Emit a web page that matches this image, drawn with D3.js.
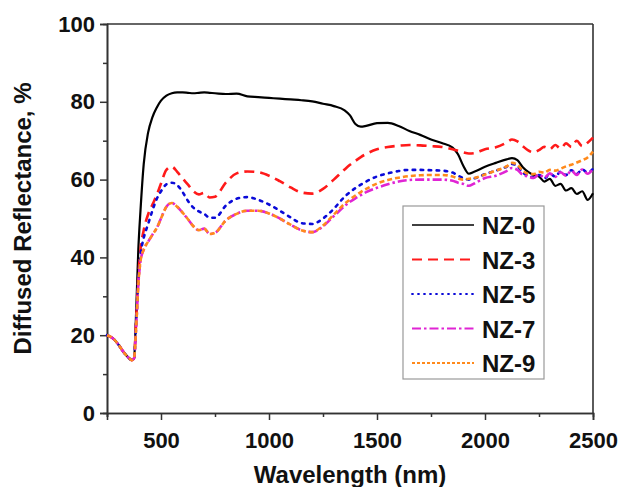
<!DOCTYPE html>
<html>
<head>
<meta charset="utf-8">
<script src="https://cdn.jsdelivr.net/npm/d3@7"></script>
<style>
  body { margin: 0; background: #fff; }
  text { font-family: "Liberation Sans", Arial, sans-serif; font-weight: bold; }
</style>
</head>
<body>
<div id="chart"></div>
<script>
// wavelengths (nm)
const wavelength = [250, 275, 300, 325, 350, 365, 375, 385, 395, 405, 420, 440, 460, 480, 500,
  525, 550, 575, 600, 625, 650, 675, 700, 725, 750, 800, 850, 900, 950, 1000,
  1050, 1100, 1150, 1200, 1250, 1300, 1350, 1375, 1400, 1425, 1450, 1500, 1550, 1600, 1650,
  1700, 1750, 1800, 1850, 1875, 1900, 1925, 1950, 2000, 2050, 2100, 2125, 2150, 2175, 2200,
  2225, 2250, 2275, 2300, 2325, 2350, 2375, 2400, 2425, 2450, 2475, 2500];

const nz0 = [20, 19.3, 17.8, 15.8, 14.2, 13.6, 14.0, 26, 42, 52, 64, 72, 76, 78.5, 80.3,
  81.6, 82.2, 82.4, 82.4, 82.3, 82.2, 82.3, 82.4, 82.3, 82.2, 82.0, 82.1, 81.4, 81.2, 81.0,
  80.8, 80.6, 80.4, 80.1, 79.5, 78.9, 77.8, 76.5, 74.3, 73.6, 73.8, 74.5, 74.6, 73.8, 72.5,
  71.5, 70.3, 69.4, 68.2, 66.5, 63.5, 61.5, 62.0, 63.3, 64.3, 65.2, 65.5, 65.0, 63.2, 62.0,
  61.2, 60.8, 59.5, 60.2, 58.4, 58.9, 57.2, 57.8, 56.3, 57.0, 54.8, 56.5];

const nz3 = [20, 19.3, 17.8, 15.8, 14.2, 13.6, 14.0, 24, 35, 42, 47, 51, 53.5, 56, 59,
  62.5, 63.3, 62.0, 60.3, 58.7, 57.0, 56.2, 56.6, 55.4, 55.6, 59.2, 61.6, 62.1, 61.9, 61.0,
  59.6, 58.0, 56.7, 56.4, 57.6, 60.0, 62.6, 63.8, 64.8, 65.8, 66.6, 67.8, 68.4, 68.7, 68.9,
  68.8, 68.6, 68.4, 67.8, 67.4, 67.0, 66.7, 66.8, 67.8, 68.3, 69.5, 70.3, 69.8, 68.6, 67.5,
  67.0, 67.6, 68.4, 67.8, 68.9, 68.0, 69.3, 68.4, 70.0, 68.6, 69.5, 70.8];

const nz5 = [20, 19.3, 17.8, 15.8, 14.2, 13.6, 14.0, 23, 34, 40.5, 45, 48.5, 52, 55, 57,
  58.8, 59.2, 58.6, 56.8, 54.5, 52.8, 51.8, 51.2, 50.2, 50.2, 53.3, 55.1, 55.5, 54.8, 53.6,
  52.0, 50.3, 48.8, 48.6, 50.0, 52.5, 55.6, 56.8, 57.8, 58.7, 59.5, 60.8, 61.6, 62.2, 62.5,
  62.5, 62.4, 62.3, 61.8, 61.0, 60.4, 60.0, 60.3, 61.4, 62.3, 63.3, 64.0, 63.5, 61.8, 61.0,
  60.6, 61.2, 60.3, 61.5, 60.8, 62.0, 61.2, 62.4, 61.5, 62.6, 61.8, 62.8];

const nz7 = [20, 19.3, 17.8, 15.8, 14.2, 13.6, 14.0, 22, 33, 39, 42, 44, 45.8, 47.5, 50,
  53, 54, 53, 51.5, 49.8, 48, 47, 47.4, 46, 46.3, 49.5, 51.2, 52, 52, 51.3,
  50.0, 48.4, 47.0, 46.5, 48.0, 50.6, 53.2, 54.3, 55.2, 56.0, 56.8, 57.9, 58.8, 59.5, 59.9,
  60.0, 60.0, 60.0, 59.7, 59.2, 58.9, 58.4, 59.0, 60.4, 61.0, 62.2, 63.0, 62.5, 61.2, 60.8,
  60.4, 61.3, 60.5, 61.6, 60.7, 61.9, 61.0, 62.3, 61.2, 62.6, 61.5, 62.8];

const nz9 = [20, 19.3, 17.8, 15.8, 14.2, 13.6, 14.0, 22, 33, 39, 42, 44, 45.8, 47.5, 50,
  53, 54, 53, 51.5, 49.8, 48, 47, 47.4, 46, 46.3, 49.5, 51.2, 52, 52, 51.3,
  50.0, 48.4, 47.0, 46.5, 48.2, 51.0, 53.8, 54.9, 55.9, 56.8, 57.6, 59.0, 59.9, 60.5, 60.9,
  61.1, 61.2, 61.2, 60.8, 60.3, 60.0, 60.2, 60.4, 61.3, 62.3, 63.4, 64.3, 63.8, 62.3, 61.5,
  61.4, 62.0, 61.8, 62.5, 62.3, 62.8, 63.4, 63.8, 64.4, 65.0, 65.7, 67.2];

const seriesNames = ["NZ-0", "NZ-3", "NZ-5", "NZ-7", "NZ-9"];
const seriesValues = [nz0, nz3, nz5, nz7, nz9];
const colors = ["#000000", "#ff1a1a", "#0a0ad8", "#e024d4", "#ff8a1c"];
const dashes = [null, "10,6", "2.5,5.5", "9,3,2.5,3", "5,3"];

const xMajor = [500, 1000, 1500, 2000, 2500];
const xMinor = [250, 750, 1250, 1750, 2250];
const yMajor = [0, 20, 40, 60, 80, 100];
const yMinor = [10, 30, 50, 70, 90];

const W = 620, H = 487;
const m = {left: 107, right: 27, top: 24, bottom: 74};

const svg = d3.select("#chart").append("svg")
  .attr("width", W)
  .attr("height", H);

const x = d3.scaleLinear().domain([250, 2500]).range([m.left, W - m.right]);
const y = d3.scaleLinear().domain([0, 100]).range([H - m.bottom, m.top]);

// axes
const axisColor = "#333";
svg.append("g").attr("transform", `translate(0,${H - m.bottom})`)
  .call(d3.axisBottom(x).tickValues(xMajor).tickSize(7).tickPadding(12).tickFormat(d3.format("d")));
svg.append("g").attr("transform", `translate(0,${H - m.bottom})`)
  .call(d3.axisBottom(x).tickValues(xMinor).tickSize(4).tickFormat(""));
svg.append("g").attr("transform", `translate(${m.left},0)`)
  .call(d3.axisLeft(y).tickValues(yMajor).tickSize(7).tickPadding(5).tickFormat(d3.format("d")));
svg.append("g").attr("transform", `translate(${m.left},0)`)
  .call(d3.axisLeft(y).tickValues(yMinor).tickSize(4).tickFormat(""));

svg.selectAll(".domain").attr("stroke", axisColor).attr("stroke-width", 1.6);
svg.selectAll(".tick line").attr("stroke", axisColor).attr("stroke-width", 1.5);
svg.selectAll(".tick text").attr("font-size", 22).attr("fill", "#111")
  .style("font-family", "'Liberation Sans', Arial, sans-serif").style("font-weight", "bold");

// top and right frame
svg.append("line").attr("x1", m.left).attr("x2", W - m.right).attr("y1", m.top).attr("y2", m.top)
  .attr("stroke", axisColor).attr("stroke-width", 1.6);
svg.append("line").attr("x1", W - m.right).attr("x2", W - m.right).attr("y1", m.top).attr("y2", H - m.bottom)
  .attr("stroke", axisColor).attr("stroke-width", 1.6);

// axis titles
svg.append("text")
  .attr("x", (m.left + W - m.right) / 2)
  .attr("y", 483)
  .attr("text-anchor", "middle")
  .attr("font-size", 24)
  .attr("fill", "#111")
  .text("Wavelength (nm)");

svg.append("text")
  .attr("transform", `translate(31,${(m.top + H - m.bottom) / 2}) rotate(-90)`)
  .attr("text-anchor", "middle")
  .attr("font-size", 24)
  .attr("fill", "#111")
  .text("Diffused Reflectance, %");

// curves
const line = d3.line()
  .x((d) => x(d[0]))
  .y((d) => y(d[1]))
  .curve(d3.curveMonotoneX);

seriesValues.forEach((vals, i) => {
  const pts = wavelength.map((w, j) => [w, vals[j]]);
  svg.append("path")
    .datum(pts)
    .attr("d", line)
    .attr("fill", "none")
    .attr("stroke", colors[i])
    .attr("stroke-width", i === 0 ? 2.2 : 2.6)
    .attr("stroke-linecap", i === 2 ? "round" : "butt")
    .attr("stroke-dasharray", dashes[i]);
});

// legend
const lg = svg.append("g").attr("transform", "translate(403,206)");
lg.append("rect")
  .attr("width", 141).attr("height", 173)
  .attr("fill", "#fff").attr("stroke", "#999").attr("stroke-width", 1.2);

seriesNames.forEach((name, i) => {
  const cy = 19 + i * 34.5;
  lg.append("line")
    .attr("x1", 9).attr("x2", 71).attr("y1", cy).attr("y2", cy)
    .attr("stroke", colors[i])
    .attr("stroke-width", i === 0 ? 1.6 : 1.8)
    .attr("stroke-linecap", i === 2 ? "round" : "butt")
    .attr("stroke-dasharray", i === 2 ? "1,5" : (i === 4 ? "3,2" : dashes[i]));
  lg.append("text")
    .attr("x", 79).attr("y", cy + 9)
    .attr("font-size", 24)
    .attr("fill", "#111")
    .text(name);
});
</script>
</body>
</html>
